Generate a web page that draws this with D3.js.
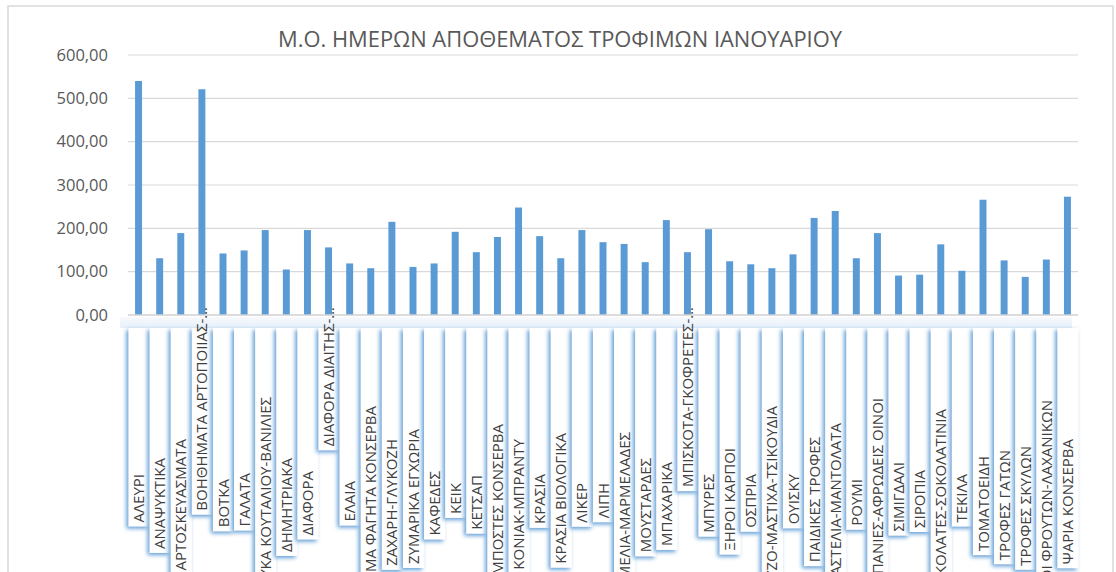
<!DOCTYPE html>
<html>
<head>
<meta charset="utf-8">
<script src="https://cdn.jsdelivr.net/npm/d3@7"></script>
<style>
  body { margin: 0; background: #fff; }
  svg { display: block; font-family: "Open Sans", "Liberation Sans", sans-serif; }
</style>
</head>
<body>
<script>
// chart data
const categories = [
  "ΑΛΕΥΡΙ", "ΑΝΑΨΥΚΤΙΚΑ", "ΑΡΤΟΣΚΕΥΑΣΜΑΤΑ", "ΒΟΗΘΗΜΑΤΑ ΑΡΤΟΠΟΙΙΑΣ-…", "ΒΟΤΚΑ",
  "ΓΑΛΑΤΑ", "ΓΛΥΚΑ ΚΟΥΤΑΛΙΟΥ-ΒΑΝΙΛΙΕΣ", "ΔΗΜΗΤΡΙΑΚΑ", "ΔΙΑΦΟΡΑ", "ΔΙΑΦΟΡΑ ΔΙΑΙΤΗΣ-…",
  "ΕΛΑΙΑ", "ΕΤΟΙΜΑ ΦΑΓΗΤΑ ΚΟΝΣΕΡΒΑ", "ΖΑΧΑΡΗ-ΓΛΥΚΟΖΗ", "ΖΥΜΑΡΙΚΑ ΕΓΧΩΡΙΑ", "ΚΑΦΕΔΕΣ",
  "ΚΕΙΚ", "ΚΕΤΣΑΠ", "ΚΟΜΠΟΣΤΕΣ ΚΟΝΣΕΡΒΑ", "ΚΟΝΙΑΚ-ΜΠΡΑΝΤΥ", "ΚΡΑΣΙΑ",
  "ΚΡΑΣΙΑ ΒΙΟΛΟΓΙΚΑ", "ΛΙΚΕΡ", "ΛΙΠΗ", "ΜΕΛΙΑ-ΜΑΡΜΕΛΑΔΕΣ", "ΜΟΥΣΤΑΡΔΕΣ",
  "ΜΠΑΧΑΡΙΚΑ", "ΜΠΙΣΚΟΤΑ-ΓΚΟΦΡΕΤΕΣ-…", "ΜΠΥΡΕΣ", "ΞΗΡΟΙ ΚΑΡΠΟΙ", "ΟΣΠΡΙΑ",
  "ΟΥΖΟ-ΜΑΣΤΙΧΑ-ΤΣΙΚΟΥΔΙΑ", "ΟΥΙΣΚΥ", "ΠΑΙΔΙΚΕΣ ΤΡΟΦΕΣ", "ΠΑΣΤΕΛΙΑ-ΜΑΝΤΟΛΑΤΑ", "ΡΟΥΜΙ",
  "ΣΑΜΠΑΝΙΕΣ-ΑΦΡΩΔΕΙΣ ΟΙΝΟΙ", "ΣΙΜΙΓΔΑΛΙ", "ΣΙΡΟΠΙΑ", "ΣΟΚΟΛΑΤΕΣ-ΣΟΚΟΛΑΤΙΝΙΑ", "ΤΕΚΙΛΑ",
  "ΤΟΜΑΤΟΕΙΔΗ", "ΤΡΟΦΕΣ ΓΑΤΩΝ", "ΤΡΟΦΕΣ ΣΚΥΛΩΝ", "ΧΥΜΟΙ ΦΡΟΥΤΩΝ-ΛΑΧΑΝΙΚΩΝ", "ΨΑΡΙΑ ΚΟΝΣΕΡΒΑ"
];

const days = [
  540, 131, 189, 521, 142,
  149, 196, 105, 196, 156,
  119, 108, 215, 111, 119,
  192, 145, 180, 248, 182,
  131, 196, 168, 164, 122,
  219, 145, 198, 124, 117,
  108, 140, 224, 240, 131,
  189, 91, 93, 163, 102,
  266, 126, 88, 128, 273
];

const yTicks = [0, 100, 200, 300, 400, 500, 600];

const title = "Μ.Ο. ΗΜΕΡΩΝ ΑΠΟΘΕΜΑΤΟΣ ΤΡΟΦΙΜΩΝ ΙΑΝΟΥΑΡΙΟΥ";

// where each rotated label ends (top of its text), as in the reference layout
const labelTop = [
  473, 457, 438, 306, 478, 472, 396, 457, 470, 306,
  480, 405, 438, 428, 470, 482, 474, 423, 438, 473,
  432, 482, 482, 431, 457, 461, 306, 473, 447, 473,
  405, 473, 436, 422, 478, 397, 461, 469, 408, 473,
  455, 449, 445, 399, 438
];

const width = 1116,
  height = 572,
  plotLeft = 128,
  plotRight = 1078,
  plotTop = 55,
  plotBottom = 315,
  boxTop = 328;

const grey = "#595959";

const svg = d3.select("body")
  .append("svg")
  .attr("width", width)
  .attr("height", height)

// shadow used for the category label boxes
const defs = svg.append("defs")
const f = defs.append("filter")
  .attr("id", "glow")
  .attr("x", "-60%").attr("y", "-10%")
  .attr("width", "200%").attr("height", "130%")
f.append("feOffset").attr("in", "SourceAlpha").attr("dx", -2).attr("dy", 2).attr("result", "off")
f.append("feGaussianBlur").attr("in", "off").attr("stdDeviation", 2).attr("result", "blur")
f.append("feFlood").attr("flood-color", "#5b9bd5").attr("flood-opacity", 1)
f.append("feComposite").attr("in2", "blur").attr("operator", "in").attr("result", "shadow")
const fm = f.append("feMerge")
fm.append("feMergeNode").attr("in", "shadow")
fm.append("feMergeNode").attr("in", "SourceGraphic")

const band = defs.append("linearGradient")
  .attr("id", "band").attr("x1", 0).attr("y1", 0).attr("x2", 0).attr("y2", 1)
band.append("stop").attr("offset", "0%").attr("stop-color", "#f7fafd")
band.append("stop").attr("offset", "100%").attr("stop-color", "#e6eff9")

// outer chart border
svg.append("rect")
  .attr("x", 8).attr("y", 6)
  .attr("width", 1105).attr("height", 600)
  .attr("fill", "#fff")
  .attr("stroke", "#d9d9d9")
  .attr("stroke-width", 1.5)

// scales
const x = d3.scaleBand()
  .domain(categories)
  .range([plotLeft, plotRight])
  .paddingInner(0.67)
  .paddingOuter(0.335)

const y = d3.scaleLinear()
  .domain([0, 600])
  .range([plotBottom, plotTop])

// title
svg.append("text")
  .attr("x", 560)
  .attr("y", 47)
  .attr("text-anchor", "middle")
  .attr("fill", grey)
  .attr("font-size", 21)
  .attr("textLength", 564)
  .attr("lengthAdjust", "spacingAndGlyphs")
  .text(title)

// gridlines
svg.append("g")
  .selectAll("line")
  .data(yTicks.filter(d => d > 0))
  .join("line")
  .attr("x1", plotLeft).attr("x2", plotRight)
  .attr("y1", d => y(d)).attr("y2", d => y(d))
  .attr("stroke", "#d9d9d9")
  .attr("stroke-width", 1.2)

// y axis labels (comma decimals)
const fmt = d3.format(".2f")
const yAxis = svg.append("g")
  .attr("transform", `translate(${plotLeft - 17},0)`)
  .call(d3.axisLeft(y).tickValues(yTicks).tickSize(0).tickFormat(d => fmt(d).replace(".", ",")))
yAxis.select(".domain").remove()
yAxis.selectAll("text")
  .attr("fill", grey)
  .attr("font-size", 16.5)
  .attr("font-family", "'Open Sans', 'Liberation Sans', sans-serif")

// bars
svg.append("g")
  .selectAll("rect")
  .data(days)
  .join("rect")
  .attr("x", (d, i) => x(categories[i]))
  .attr("y", d => y(d))
  .attr("width", x.bandwidth())
  .attr("height", d => y(0) - y(d))
  .attr("fill", "#5b9bd5")

// axis line
svg.append("line")
  .attr("x1", plotLeft).attr("x2", plotRight)
  .attr("y1", y(0)).attr("y2", y(0))
  .attr("stroke", "#d0d0d0")
  .attr("stroke-width", 1.5)

// light band under the axis
svg.append("rect")
  .attr("x", plotLeft - 8).attr("y", y(0) + 2)
  .attr("width", plotRight - plotLeft + 2).attr("height", boxTop - y(0) - 2)
  .attr("fill", "url(#band)")

// category labels: white boxes with blue shadow, text rotated
const step = x.step()
const labels = svg.append("g")
  .selectAll("g")
  .data(categories)
  .join("g")

labels.each(function (d, i) {
  const g = d3.select(this)
  const cx = x(d) + x.bandwidth() / 2
  const box = g.append("rect").attr("filter", "url(#glow)").attr("fill", "#fff")
  const t = g.append("text")
    .attr("fill", "#404040")
    .attr("font-size", 15)
    .text(d)
  const len = t.node().getComputedTextLength()
  const bottom = labelTop[i] + len + 5
  t.attr("transform", `translate(${cx + 5.5},${bottom - 4}) rotate(-90)`)
  box.attr("x", cx - step / 2 + 0.5)
    .attr("y", boxTop)
    .attr("width", step)
    .attr("height", bottom - boxTop)
})
</script>
</body>
</html>
